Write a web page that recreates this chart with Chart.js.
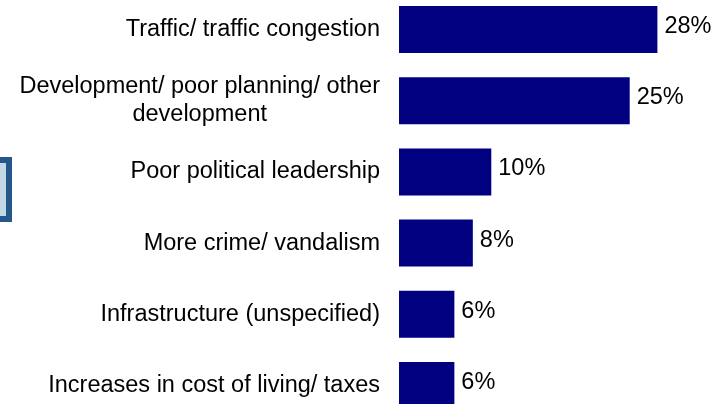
<!DOCTYPE html>
<html>
<head>
<meta charset="utf-8">
<script src="https://cdn.jsdelivr.net/npm/chart.js@4/dist/chart.umd.min.js"></script>
<style>
  html, body { margin:0; padding:0; background:#fff; }
  body { width:727px; height:404px; overflow:hidden; position:relative; }
  #wrap { position:absolute; left:0; top:-6px; width:727px; height:427px; }
  /* edge of a text frame peeking in from the left */
  #frame {
    position:absolute; left:-20px; top:157px; width:20px; height:53px;
    background:#c3d7e5; border:6px solid #24578a;
  }
</style>
</head>
<body>
<div id="frame"></div>
<div id="wrap"><canvas id="chart"></canvas></div>
<script>
/* ---------- Data ---------- */
const categories = [
  ["Traffic/ traffic congestion"],
  ["Development/ poor planning/ other", "development"],
  ["Poor political leadership"],
  ["More crime/ vandalism"],
  ["Infrastructure (unspecified)"],
  ["Increases in cost of living/ taxes"]
];
const values = [28, 25, 10, 8, 6, 6];

const BAR_COLOR = "#000080";
const FONT = "23.5px 'Liberation Sans', Arial, sans-serif";
const LABEL_RIGHT = 380;   // right edge of category text
const LINE_H = 28;

/* ---------- Labels: categories on the left, percentages after each bar ---------- */
const barLabels = {
  id: "barLabels",
  afterDatasetsDraw(c){
    const g = c.ctx;
    const y = c.scales.y;
    const bars = c.getDatasetMeta(0).data;
    g.save();
    g.font = FONT;
    g.fillStyle = "#000";
    g.textBaseline = "middle";

    categories.forEach((lines, i) => {
      const cy = y.getPixelForValue(i);
      const top = cy - (lines.length - 1) * LINE_H / 2;
      if (lines.length === 1) {
        g.textAlign = "right";
        g.fillText(lines[0], LABEL_RIGHT, cy);
      } else {
        // wrapped labels are centred on each other, block flush right
        const w = Math.max(...lines.map(l => g.measureText(l).width));
        g.textAlign = "center";
        lines.forEach((l, k) => g.fillText(l, LABEL_RIGHT - w / 2, top + k * LINE_H));
      }
    });

    g.textAlign = "left";
    bars.forEach((b, i) => {
      g.fillText(values[i] + "%", b.x + 7, b.y - 3);
    });
    g.restore();
  }
};

new Chart(document.getElementById("chart"), {
  type: "bar",
  data: {
    labels: categories.map(l => l.join(" ")),
    datasets: [{
      data: values,
      backgroundColor: BAR_COLOR,
      borderWidth: 0,
      barPercentage: 0.66,
      categoryPercentage: 1
    }]
  },
  options: {
    indexAxis: "y",
    responsive: true,
    maintainAspectRatio: false,
    animation: false,
    layout: { padding: { left: 399, right: 5, top: 0, bottom: 0 } },
    scales: {
      x: { display: false, min: 0, max: 35 },
      y: { display: false }
    },
    plugins: {
      legend: { display: false },
      tooltip: { enabled: false }
    }
  },
  plugins: [barLabels]
});
</script>
</body>
</html>
